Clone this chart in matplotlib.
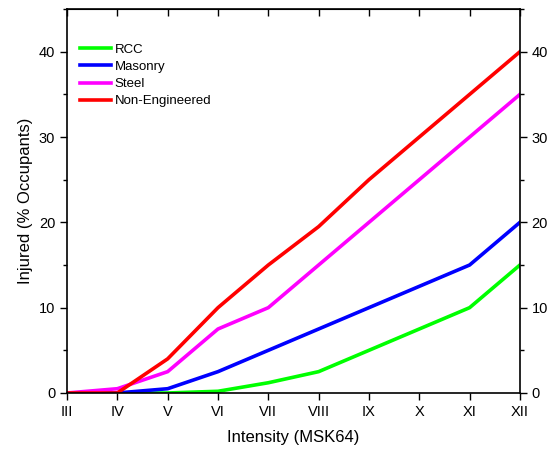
import matplotlib
matplotlib.use('Agg')
from matplotlib import pyplot as plt
from matplotlib.ticker import MultipleLocator

plt.rcParams['font.family'] = ['Liberation Sans', 'DejaVu Sans']

intensity = ['III', 'IV', 'V', 'VI', 'VII', 'VIII', 'IX', 'X', 'XI', 'XII']
rcc = [0, 0, 0, 0.2, 1.2, 2.5, 5, 7.5, 10, 15]
masonry = [0, 0, 0.5, 2.5, 5, 7.5, 10, 12.5, 15, 20]
steel = [0, 0.5, 2.5, 7.5, 10, 15, 20, 25, 30, 35]
non_eng = [0, 0, 4, 10, 15, 19.5, 25, 30, 35, 40]

fig = plt.figure(figsize=(5.47, 4.54), dpi=100)
ax = fig.add_axes([0.1225, 0.1344, 0.828, 0.8456])
x = list(range(len(intensity)))
ax.plot(x, rcc, c='#00ff00', lw=2.6, label='RCC')
ax.plot(x, masonry, c='#0000ff', lw=2.6, label='Masonry')
ax.plot(x, steel, c='#ff00ff', lw=2.6, label='Steel')
ax.plot(x, non_eng, c='#ff0000', lw=2.6, label='Non-Engineered')

ax.set_xlim(0, len(intensity) - 1)
ax.set_ylim(0, 45)
ax.set_xticks(x)
ax.set_xticklabels(intensity)
ax.yaxis.set_major_locator(MultipleLocator(10))
ax.yaxis.set_minor_locator(MultipleLocator(5))
ax.tick_params(axis='both', which='major', labelsize=10.5, length=5, width=1)
ax.tick_params(axis='y', which='minor', length=3, width=1)
ax.tick_params(axis='y', right=True, labelright=True, which='both')

# top ticks point inward
top = ax.secondary_xaxis('top')
top.set_xticks(x)
top.tick_params(direction='in', length=5, width=1, labeltop=False)

for s in ax.spines.values():
    s.set_linewidth(1.2)

ax.set_xlabel('Intensity (MSK64)', fontsize=12, labelpad=8)
ax.set_ylabel('Injured (% Occupants)', fontsize=12)

ax.legend(loc='upper left', bbox_to_anchor=(0.0, 0.945), frameon=False, fontsize=9.5,
          handlelength=2.3, handletextpad=0.3, labelspacing=0.38, borderaxespad=0.6)

fig.savefig('out.png', dpi=100)
